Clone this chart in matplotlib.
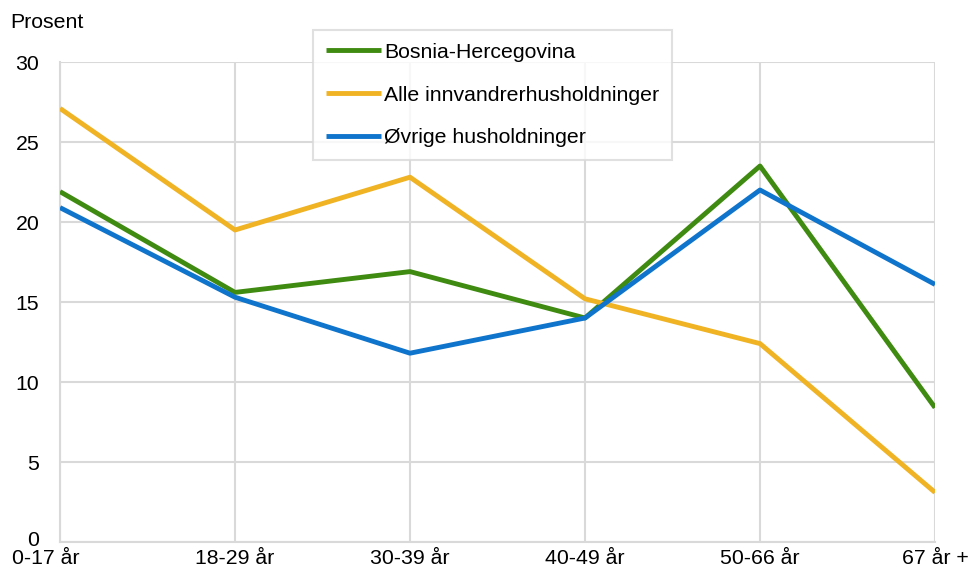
import matplotlib
matplotlib.use("Agg")
import matplotlib.pyplot as plt
import matplotlib.transforms as mtransforms

plt.rcParams['font.family'] = ['Liberation Sans', 'DejaVu Sans']

categories = ["0-17 år", "18-29 år", "30-39 år", "40-49 år", "50-66 år", "67 år +"]
bosnia = [21.9, 15.6, 16.9, 14.0, 23.5, 8.4]
alle = [27.1, 19.5, 22.8, 15.2, 12.4, 3.1]
ovrige = [20.9, 15.3, 11.8, 14.0, 22.0, 16.1]
yticks = [0, 5, 10, 15, 20, 25, 30]

FS = 15.3
fig = plt.figure(figsize=(9.69, 5.7), dpi=100)
W, H = 969, 570
ax = fig.add_axes([60 / W, (H - 542) / H, (935 - 60) / W, (542 - 62) / H])

x = list(range(len(categories)))
ax.plot(x, bosnia, color="#3f8a10", lw=3.5, label="Bosnia-Hercegovina", solid_capstyle="butt", zorder=3)
ax.plot(x, alle, color="#efb324", lw=3.5, label="Alle innvandrerhusholdninger", solid_capstyle="butt", zorder=3)
ax.plot(x, ovrige, color="#0f74cc", lw=3.5, label="Øvrige husholdninger", solid_capstyle="butt", zorder=3)

ax.set_xlim(0, len(categories) - 1)
ax.set_ylim(0, 30)
ax.set_xticks(x)
ax.set_xticklabels(categories, fontsize=FS)
ax.set_yticks(yticks)
ax.set_yticklabels([str(v) for v in yticks], fontsize=FS)
ax.tick_params(axis='both', length=0, colors="#000000")
ax.tick_params(axis='x', pad=5)
ax.tick_params(axis='y', pad=15)

ax.grid(True, color="#d9d9d9", lw=1.5, zorder=0)
for s in ["top", "right"]:
    ax.spines[s].set_visible(False)
for s in ["left", "bottom"]:
    ax.spines[s].set_color("#d9d9d9")
    ax.spines[s].set_linewidth(1.5)

lbls = ax.get_xticklabels()
lbls[0].set_transform(lbls[0].get_transform() + mtransforms.ScaledTranslation(-14 / 100, 0, fig.dpi_scale_trans))
ylbls = ax.get_yticklabels()
ylbls[0].set_transform(ylbls[0].get_transform() + mtransforms.ScaledTranslation(0, 3 / 100, fig.dpi_scale_trans))

fig.text(10 / W, 1 - 22 / H, "Prosent", fontsize=FS, va="center", ha="left")

leg = ax.legend(loc="upper left", bbox_to_anchor=((313 - 60) / 875, (542 - 30) / 480),
                fontsize=FS, frameon=True, fancybox=False, handlelength=2.6,
                handletextpad=0.15, labelspacing=1.12, borderpad=0.6, borderaxespad=0)
leg.get_frame().set_edgecolor("#d9d9d9")
leg.get_frame().set_linewidth(1.5)

fig.savefig("out.png", dpi=100)
